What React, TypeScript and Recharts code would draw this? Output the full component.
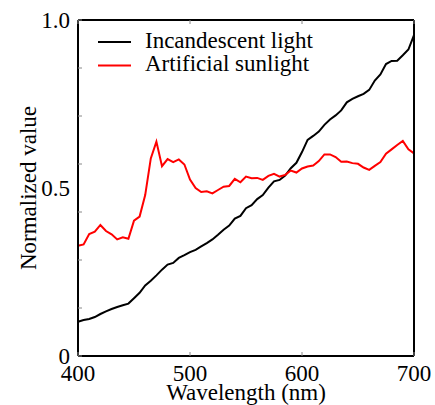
import { LineChart, Line, XAxis, YAxis, Legend } from "recharts";

// wavelengths sampled every 5 nm
const wavelengths = [
  400, 405, 410, 415, 420, 425, 430, 435, 440, 445,
  450, 455, 460, 465, 470, 475, 480, 485, 490, 495,
  500, 505, 510, 515, 520, 525, 530, 535, 540, 545,
  550, 555, 560, 565, 570, 575, 580, 585, 590, 595,
  600, 605, 610, 615, 620, 625, 630, 635, 640, 645,
  650, 655, 660, 665, 670, 675, 680, 685, 690, 695, 700,
];

const incandescent = [
  0.102, 0.107, 0.110, 0.116, 0.125, 0.133, 0.140, 0.146, 0.151, 0.156,
  0.172, 0.188, 0.210, 0.224, 0.240, 0.257, 0.272, 0.277, 0.292, 0.300,
  0.309, 0.316, 0.326, 0.336, 0.347, 0.361, 0.376, 0.388, 0.409, 0.417,
  0.440, 0.449, 0.467, 0.479, 0.501, 0.520, 0.524, 0.537, 0.559, 0.575,
  0.607, 0.643, 0.655, 0.668, 0.688, 0.704, 0.716, 0.731, 0.755, 0.765,
  0.773, 0.780, 0.792, 0.820, 0.838, 0.869, 0.878, 0.879, 0.895, 0.912, 0.955,
];

const sunlight = [
  0.328, 0.332, 0.363, 0.370, 0.390, 0.372, 0.362, 0.347, 0.353, 0.349,
  0.403, 0.415, 0.479, 0.588, 0.638, 0.565, 0.586, 0.577, 0.585, 0.570,
  0.525, 0.500, 0.488, 0.490, 0.484, 0.494, 0.504, 0.506, 0.527, 0.517,
  0.534, 0.529, 0.530, 0.524, 0.536, 0.542, 0.534, 0.539, 0.552, 0.546,
  0.558, 0.564, 0.567, 0.580, 0.600, 0.600, 0.592, 0.578, 0.579, 0.574,
  0.572, 0.561, 0.554, 0.566, 0.577, 0.602, 0.615, 0.628, 0.640, 0.615, 0.603,
];

const seriesNames = ["Incandescent light", "Artificial sunlight"];
const xTicks = [400, 500, 600, 700];
const yLabelTicks = [0, 0.5, 1];
const yMinorTicks = [0, 1, 2, 3, 4, 5, 6, 7].map((k) => k / 7);

const data = wavelengths.map((wl, i) => ({
  wl,
  incandescent: incandescent[i],
  sunlight: sunlight[i],
}));

const FONT = "'Liberation Serif', 'Times New Roman', serif";
const FS = 23;
const TICK_GRAY = "#888";
const TICK_LEN = 4;
const frame = { stroke: "#000", strokeWidth: 2 };

const near = (list: number[], v: number) => list.some((t) => Math.abs(t - v) < 1e-6);

// left axis: inward minor ticks + labels at 0 / 0.5 / 1.0
function LeftTick({ x, y, payload }: any) {
  const v = payload.value;
  return (
    <g>
      {near(yMinorTicks, v) && <line x1={x} x2={x + TICK_LEN} y1={y} y2={y} stroke={TICK_GRAY} />}
      {near(yLabelTicks, v) && (
        <text x={x - 8} y={y} dy="0.355em" textAnchor="end" fontSize={FS} fontFamily={FONT} fill="#000">
          {v === 0 ? "0" : v.toFixed(1)}
        </text>
      )}
    </g>
  );
}

function RightTick({ x, y }: any) {
  return <line x1={x} x2={x - TICK_LEN} y1={y} y2={y} stroke={TICK_GRAY} />;
}

function TopTick({ x, y }: any) {
  return <line x1={x} x2={x} y1={y} y2={y + TICK_LEN} stroke={TICK_GRAY} />;
}

function BottomTick({ x, y, payload }: any) {
  return (
    <g>
      <line x1={x} x2={x} y1={y} y2={y - TICK_LEN} stroke={TICK_GRAY} />
      <text x={x} y={y + 9} dy="0.71em" textAnchor="middle" fontSize={FS} fontFamily={FONT} fill="#000">
        {payload.value}
      </text>
    </g>
  );
}

function LegendBox({ payload }: any) {
  const items = seriesNames
    .map((n) => (payload || []).find((p: any) => p.value === n))
    .filter(Boolean);
  return (
    <svg width={300} height={56} style={{ display: "block" }}>
      {items.map((p: any, i: number) => (
        <g key={p.value}>
          <line x1={20} x2={53} y1={14 + i * 23.5} y2={14 + i * 23.5} stroke={p.color} strokeWidth={2} />
          <text x={67} y={19.5 + i * 23.5} fontSize={FS} fontFamily={FONT} fill="#000">
            {p.value}
          </text>
        </g>
      ))}
    </svg>
  );
}

export default function App() {
  return (
    <div style={{ position: "absolute", left: 0, top: 0, width: 435, height: 405, background: "#fff" }}>
      <LineChart width={435} height={405} data={data} margin={{ top: 0, right: 0, bottom: 0, left: 0 }}>
        <XAxis
          dataKey="wl"
          type="number"
          domain={[400, 700]}
          ticks={xTicks}
          height={49}
          interval={0}
          axisLine={frame}
          tickLine={false}
          tickSize={0}
          tickMargin={0}
          tick={(p: any) => <BottomTick {...p} />}
          label={{ value: "Wavelength (nm)", position: "insideBottom", offset: 5, fill: "#000", fontSize: FS, fontFamily: FONT }}
        />
        <XAxis
          xAxisId="top"
          orientation="top"
          dataKey="wl"
          type="number"
          domain={[400, 700]}
          ticks={xTicks}
          height={20}
          interval={0}
          axisLine={frame}
          tickLine={false}
          tickSize={0}
          tickMargin={0}
          tick={(p: any) => <TopTick {...p} />}
        />
        <YAxis
          type="number"
          domain={[0, 1]}
          ticks={[...yMinorTicks, 0.5]}
          width={78}
          interval={0}
          axisLine={frame}
          tickLine={false}
          tickSize={0}
          tickMargin={0}
          tick={(p: any) => <LeftTick {...p} />}
          label={{ value: "Normalized value", angle: -90, position: "insideLeft", offset: 28, fill: "#000", fontSize: FS, fontFamily: FONT, style: { textAnchor: "middle" } }}
        />
        <YAxis
          yAxisId="right"
          orientation="right"
          type="number"
          domain={[0, 1]}
          ticks={yMinorTicks}
          width={21}
          interval={0}
          axisLine={frame}
          tickLine={false}
          tickSize={0}
          tickMargin={0}
          tick={(p: any) => <RightTick {...p} />}
        />
        <Legend
          layout="vertical"
          align="center"
          verticalAlign="middle"
          content={<LegendBox />}
          wrapperStyle={{ left: 78, top: 28, width: 300 }}
        />
        <Line type="linear" dataKey="incandescent" name="Incandescent light" stroke="#000" strokeWidth={2} dot={false} isAnimationActive={false} />
        <Line type="linear" dataKey="sunlight" name="Artificial sunlight" stroke="#ff0000" strokeWidth={2} dot={false} isAnimationActive={false} />
      </LineChart>
    </div>
  );
}
